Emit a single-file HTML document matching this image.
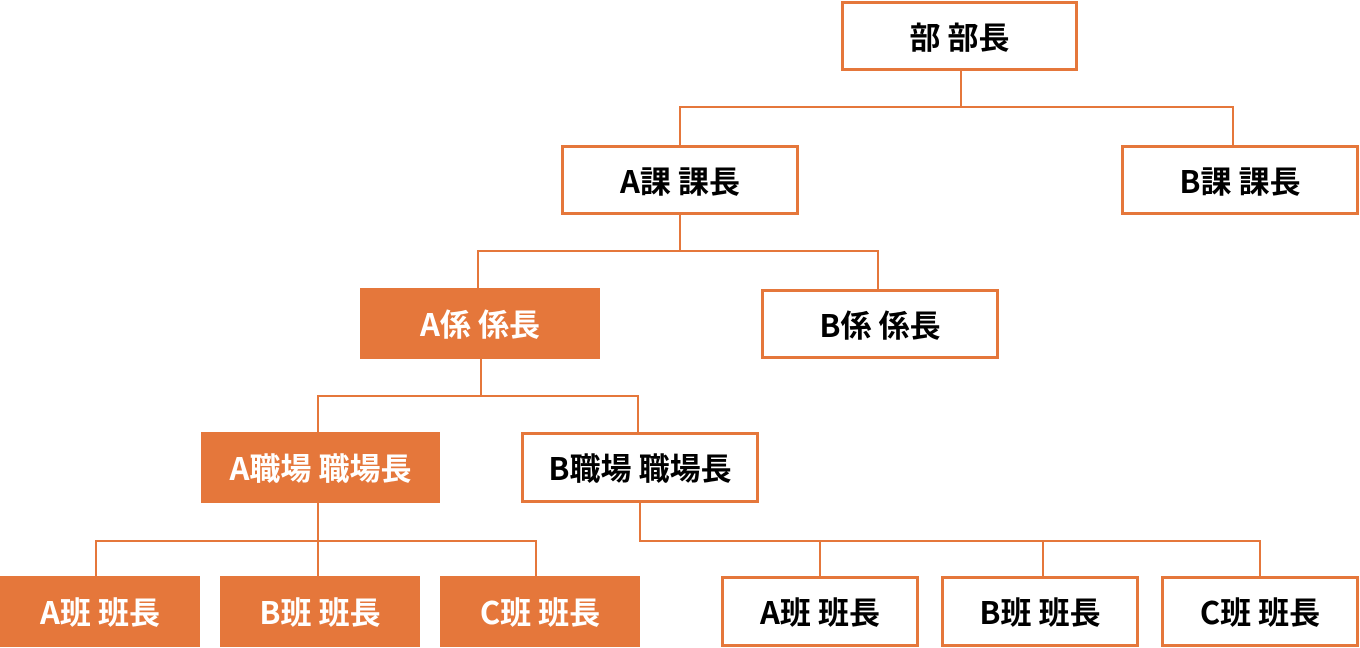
<!DOCTYPE html>
<html><head><meta charset="utf-8"><style>
html,body{margin:0;padding:0;background:#fff;width:1360px;height:648px;overflow:hidden}
.b{position:absolute;box-sizing:border-box;border:3px solid #E5773B;background:#fff;display:flex;align-items:center;justify-content:center;font-family:"Noto Sans CJK JP","Liberation Sans",sans-serif;font-weight:bold;font-size:31px;color:#000;padding-bottom:2px}
.f{background:#E5773B;color:#fff}
svg{position:absolute;left:0;top:0}
</style></head><body>
<svg width="1360" height="648"><g stroke="#E5773B" stroke-width="2" fill="none">
<path d="M961 71V107M680 107H1233M680 106V145M1233 106V145"/>
<path d="M680 215V251M478 251H878M478 250V289M878 250V289"/>
<path d="M481 358V396M318 396H638M318 395V432M638 395V432"/>
<path d="M318 503V576M96 541H536M96 540V576M536 540V576"/>
<path d="M640 502V541H1260M820 540V576M1043 540V576M1260 540V576"/>
</g></svg>
<div class="b" style="left:841px;top:1px;width:237px;height:70px">部 部長</div>
<div class="b" style="left:561px;top:145px;width:238px;height:70px">A課 課長</div>
<div class="b" style="left:1121px;top:145px;width:238px;height:70px">B課 課長</div>
<div class="b f" style="left:360px;top:288px;width:240px;height:71px">A係 係長</div>
<div class="b" style="left:761px;top:289px;width:238px;height:70px">B係 係長</div>
<div class="b f" style="left:201px;top:432px;width:239px;height:71px">A職場 職場長</div>
<div class="b" style="left:521px;top:432px;width:238px;height:71px">B職場 職場長</div>
<div class="b f" style="left:0px;top:576px;width:200px;height:71px">A班 班長</div>
<div class="b f" style="left:220px;top:576px;width:200px;height:71px">B班 班長</div>
<div class="b f" style="left:440px;top:576px;width:200px;height:71px">C班 班長</div>
<div class="b" style="left:721px;top:576px;width:198px;height:71px">A班 班長</div>
<div class="b" style="left:941px;top:576px;width:198px;height:71px">B班 班長</div>
<div class="b" style="left:1161px;top:576px;width:198px;height:71px">C班 班長</div>
</body></html>
